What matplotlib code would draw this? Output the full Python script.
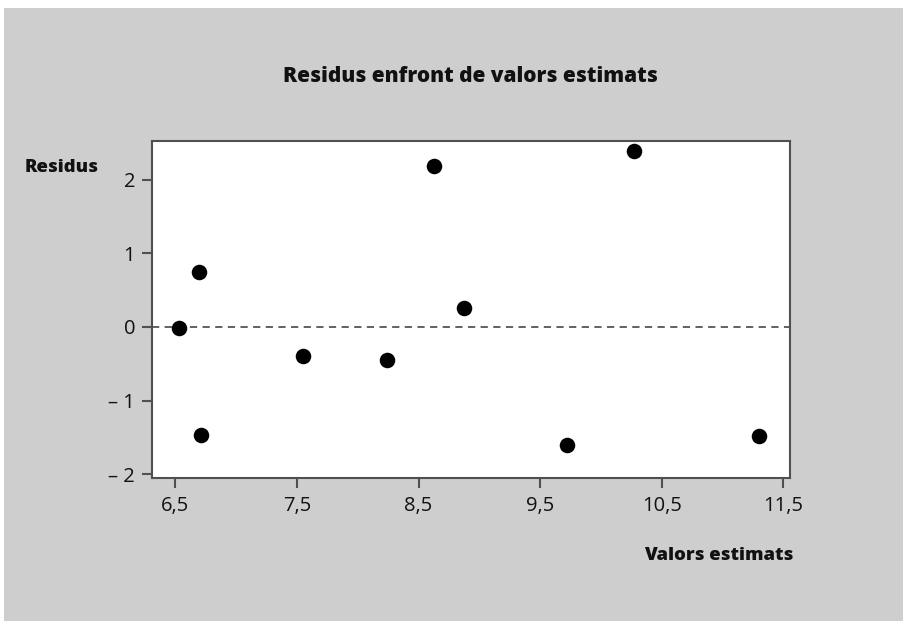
import matplotlib
matplotlib.use("Agg")
import matplotlib.pyplot as plt
from matplotlib.patches import Rectangle

# Data
fitted = [6.53, 6.69, 6.71, 7.55, 8.24, 8.63, 8.87, 9.72, 10.27, 11.30]
residuals = [-0.02, 0.74, -1.47, -0.395, -0.45, 2.19, 0.25, -1.60, 2.39, -1.48]
xticks = [6.5, 7.5, 8.5, 9.5, 10.5, 11.5]
xticklabels = ["6,5", "7,5", "8,5", "9,5", "10,5", "11,5"]
yticks = [-2, -1, 0, 1, 2]
yticklabels = ["\u2013 2", "\u2013 1", "0", "1", "2"]
title = "Residus enfront de valors estimats"
xlabel = "Valors estimats"
ylabel = "Residus"

plt.rcParams['font.family'] = ['Open Sans', 'DejaVu Sans']

W, H = 904, 621
fig = plt.figure(figsize=(W / 100, H / 100), dpi=100, facecolor='white')
bg = Rectangle((4 / W, 0), 1 - 4 / W, 1 - 8 / H, transform=fig.transFigure,
               facecolor='#cecece', edgecolor='none', zorder=-10)
fig.patches.append(bg)

ax = fig.add_axes([151.7 / W, 1 - 477.7 / H, (790 - 151.7) / W, (477.7 - 141) / H])
ax.set_facecolor('white')
ax.scatter(fitted, residuals, s=125, color='black', zorder=3, linewidths=0)
ax.axhline(0, color='#555555', linestyle=(0, (4, 3)), linewidth=1.3, zorder=2)

ax.set_xlim(6.305, 11.555)
ax.set_ylim(-2.047, 2.523)
ax.set_xticks(xticks)
ax.set_xticklabels(xticklabels)
ax.set_yticks(yticks)
ax.set_yticklabels(yticklabels)

for sp in ax.spines.values():
    sp.set_color('#505050')
    sp.set_linewidth(1.5)
ax.tick_params(axis='both', direction='out', length=7, width=1.5, color='#505050',
               labelsize=14.5, labelcolor='#111111')
ax.tick_params(axis='y', pad=5)
ax.tick_params(axis='x', pad=6)

fig.text(470 / W, 1 - 77 / H, title, ha='center', va='center', fontsize=15,
         fontweight='heavy', color='#111111')
fig.text(25 / W, 1 - 167 / H, ylabel, ha='left', va='center', fontsize=13.3,
         fontweight='heavy', color='#111111')
fig.text(793 / W, 1 - 556 / H, xlabel, ha='right', va='center', fontsize=13.3,
         fontweight='heavy', color='#111111')

fig.savefig('out.png', dpi=100, facecolor='white')
